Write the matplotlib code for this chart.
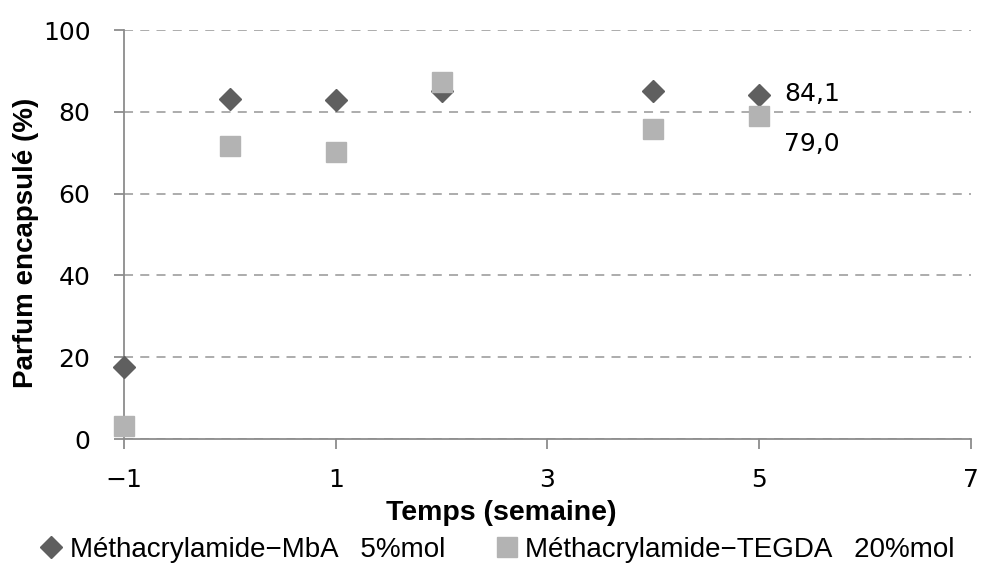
import matplotlib
matplotlib.use('Agg')
from matplotlib import pyplot as plt

semaines = [-1, 0, 1, 2, 4, 5]
mba_5 = [17.5, 83.2, 82.9, 85.1, 85.2, 84.1]
tegda_20 = [3.3, 71.7, 70.2, 87.3, 75.8, 79.0]
labels_mba = ['', '', '', '', '', '84,1']
labels_tegda = ['', '', '', '', '', '79,0']

plt.rcParams['font.family'] = ['Liberation Sans', 'DejaVu Sans']

fig = plt.figure(figsize=(9.81, 5.63), dpi=100)
ax = fig.add_axes([0.1264, 0.2202, 0.8634, 0.7265])

ax.plot(semaines, mba_5, linestyle='none', marker='D', markersize=11,
        color='#5f5f5f', label='Méthacrylamide\u2212MbA   5%mol', zorder=3, clip_on=False)
ax.plot(semaines, tegda_20, linestyle='none', marker='s', markersize=14.5,
        color='#b3b3b3', label='Méthacrylamide\u2212TEGDA   20%mol', zorder=4, clip_on=False)

for x, y, t in zip(semaines, mba_5, labels_mba):
    if t:
        ax.annotate(t, (x, y), xytext=(18, 1), textcoords='offset points',
                    va='center', ha='left', fontsize=18, family='DejaVu Sans')
for x, y, t in zip(semaines, tegda_20, labels_tegda):
    if t:
        ax.annotate(t, (x, y), xytext=(18, -20), textcoords='offset points',
                    va='center', ha='left', fontsize=18, family='DejaVu Sans')

ax.set_xlim(-1, 7)
ax.set_ylim(0, 100)
ax.set_xticks([-1, 1, 3, 5, 7])
ax.set_xticklabels(['\u22121', '1', '3', '5', '7'])
ax.set_yticks([0, 20, 40, 60, 80, 100])

ax.yaxis.grid(True, linestyle=(0, (5, 4)), color='#a6a6a6', linewidth=1.3)
ax.set_axisbelow(True)

for s in ['top', 'right']:
    ax.spines[s].set_visible(False)
for s in ['left', 'bottom']:
    ax.spines[s].set_color('#8c8c8c')
    ax.spines[s].set_linewidth(1.3)

ax.tick_params(axis='both', colors='#8c8c8c', width=1.3, length=7.2,
               labelcolor='black', labelsize=18)
ax.tick_params(axis='x', pad=14)
ax.tick_params(axis='y', pad=17)
for lab in ax.get_xticklabels() + ax.get_yticklabels():
    lab.set_family('DejaVu Sans')

ax.set_xlabel('Temps (semaine)', fontsize=20.5, fontweight='bold', va='center')
ax.xaxis.set_label_coords(0.4457, -0.181)
ax.set_ylabel('Parfum encapsulé (%)', fontsize=20, fontweight='bold', va='center')
ax.yaxis.set_label_coords(-0.116, 0.48)

fig.legend(loc='center left', bbox_to_anchor=(0.027, 0.023), ncol=2, frameon=False,
           fontsize=20, handletextpad=0.15, columnspacing=1.75, markerscale=1.0,
           handlelength=1.0, borderaxespad=0)

fig.savefig('out.png', dpi=100)
